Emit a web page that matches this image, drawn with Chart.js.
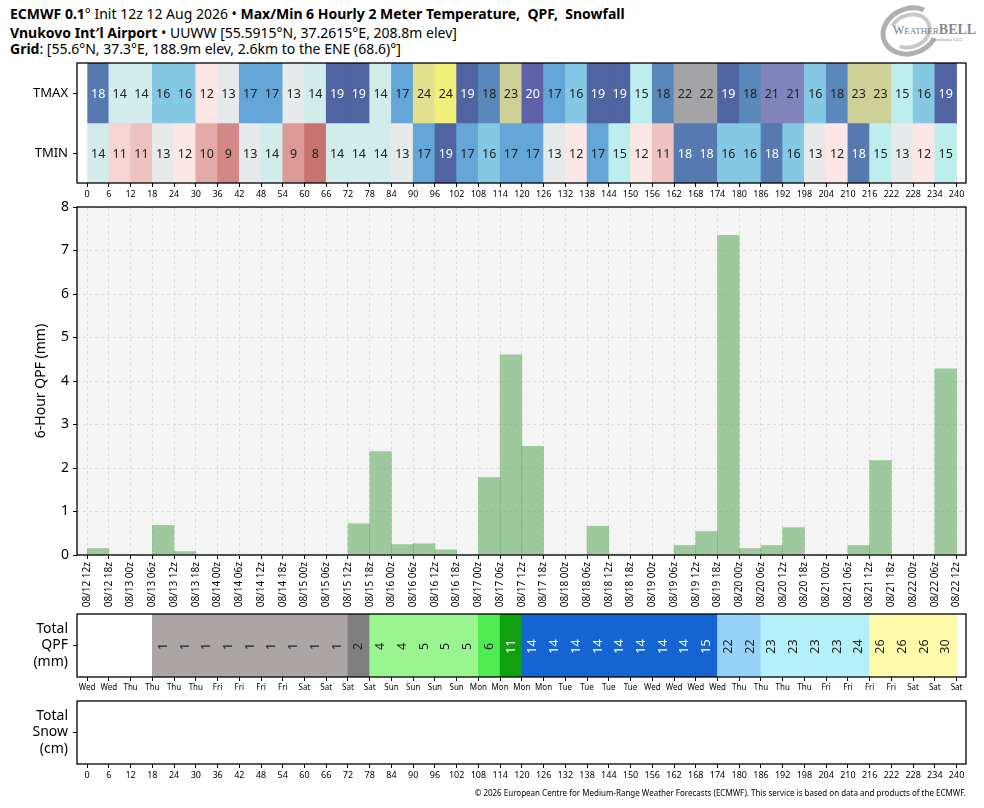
<!DOCTYPE html>
<html>
<head>
<meta charset="utf-8">
<script src="https://cdn.jsdelivr.net/npm/chart.js@4.4.1/dist/chart.umd.min.js"></script>
<style>
  body { margin: 0; background: #fff; width: 984px; height: 808px; position: relative; overflow: hidden; font-family: 'Noto Sans', sans-serif; color: #000; }
  canvas { position: absolute; left: 0; }
  .t { position: absolute; left: 10px; font-size: 14px; line-height: 18px; white-space: pre; }
  #footer { position: absolute; right: 18px; top: 787px; font-size: 8px; white-space: pre; }
  #logo { position: absolute; left: 876px; top: 4px; width: 100px; height: 56px; }
  #logo .swirl { position: absolute; left: 4px; top: 2px; width: 50px; height: 40px; border: 5px solid #b0b0b0; border-right-color: transparent; border-radius: 50%; transform: rotate(-20deg); }
  #logo .swirl2 { position: absolute; left: 12px; top: 9px; width: 36px; height: 28px; border: 4px solid #c8c8c8; border-left-color: transparent; border-radius: 50%; transform: rotate(-20deg); }
  #logo .wb { position: absolute; left: 17px; top: 18px; font-family: 'Liberation Serif', serif; color: #777; font-size: 9px; white-space: nowrap; }
  #logo .wb .w { font-size: 12px; }
  #logo .wb b { font-size: 14px; color: #888; }
  #logo .llc { position: absolute; left: 57px; top: 33px; font-family: 'Liberation Serif', serif; color: #888; font-size: 5px; white-space: nowrap; }
</style>
</head>
<body>
<div class="t" style="top:5px"><b>ECMWF 0.1</b>° Init 12z 12 Aug 2026 • <b>Max/Min 6 Hourly 2 Meter Temperature,  QPF,  Snowfall</b></div>
<div class="t" style="top:24px"><b>Vnukovo Int′l Airport</b> • UUWW [55.5915°N, 37.2615°E, 208.8m elev]</div>
<div class="t" style="top:40px"><b>Grid</b>: [55.6°N, 37.3°E, 188.9m elev, 2.6km to the ENE (68.6)°]</div>

<div id="logo"><div class="swirl"></div><div class="swirl2"></div>
  <div class="wb"><span class="w">W</span>EATHER<b>BELL</b></div>
  <div class="llc">Analytics LLC</div>
</div>

<canvas id="tempChart" width="984" height="150" style="top:55px"></canvas>
<canvas id="qpfChart" width="984" height="412" style="top:200px"></canvas>
<canvas id="totalChart" width="984" height="92" style="top:608px"></canvas>
<canvas id="snowChart" width="984" height="92" style="top:695px"></canvas>

<div id="footer">© 2026 European Centre for Medium-Range Weather Forecasts (ECMWF). This service is based on data and products of the ECMWF.</div>

<script>
// ================= DATA =================
const hours = [0, 6, 12, 18, 24, 30, 36, 42, 48, 54, 60, 66, 72, 78, 84, 90, 96, 102, 108, 114, 120,
  126, 132, 138, 144, 150, 156, 162, 168, 174, 180, 186, 192, 198, 204, 210, 216, 222, 228, 234, 240];

const dateLabels = ["08/12 12z", "08/12 18z",
  "08/13 00z", "08/13 06z", "08/13 12z", "08/13 18z",
  "08/14 00z", "08/14 06z", "08/14 12z", "08/14 18z",
  "08/15 00z", "08/15 06z", "08/15 12z", "08/15 18z",
  "08/16 00z", "08/16 06z", "08/16 12z", "08/16 18z",
  "08/17 00z", "08/17 06z", "08/17 12z", "08/17 18z",
  "08/18 00z", "08/18 06z", "08/18 12z", "08/18 18z",
  "08/19 00z", "08/19 06z", "08/19 12z", "08/19 18z",
  "08/20 00z", "08/20 06z", "08/20 12z", "08/20 18z",
  "08/21 00z", "08/21 06z", "08/21 12z", "08/21 18z",
  "08/22 00z", "08/22 06z", "08/22 12z"];

const dayLabels = ["Wed", "Wed", "Thu", "Thu", "Thu", "Thu", "Fri", "Fri", "Fri", "Fri",
  "Sat", "Sat", "Sat", "Sat", "Sun", "Sun", "Sun", "Sun", "Mon", "Mon", "Mon", "Mon",
  "Tue", "Tue", "Tue", "Tue", "Wed", "Wed", "Wed", "Wed", "Thu", "Thu", "Thu", "Thu",
  "Fri", "Fri", "Fri", "Fri", "Sat", "Sat", "Sat"];

const rowLabels = ["TMAX", "TMIN"];

// 6-hourly max / min 2 m temperature (C), one value per 6 h cell
const tmax = [18.4, 14, 14, 16, 16, 12, 13, 17, 17, 13, 14, 19, 19, 14, 17, 24, 24.49, 19, 18, 23,
  20, 17, 16, 19, 19, 15, 18, 22, 22, 19, 18, 21, 21, 16, 18, 23, 23, 15, 16, 19];
const tmin = [14, 11.3, 10.7, 13, 12, 10, 8.55, 13, 14, 9, 8, 14, 14, 14, 13, 17, 19, 17, 16, 17,
  17, 13, 12, 17, 15, 12, 10.7, 18.4, 18.4, 16, 16, 18.4, 16, 13, 12, 18.4, 15, 13, 12, 15];

// 6-hour QPF (mm)
const qpf6h = [0.15, 0, 0, 0.68, 0.08, 0, 0, 0, 0, 0, 0, 0, 0.72, 2.38, 0.24, 0.26, 0.12, 0, 1.78, 4.6,
  2.5, 0, 0, 0.66, 0.02, 0, 0, 0.22, 0.54, 7.35, 0.15, 0.22, 0.63, 0, 0, 0.22, 2.17, 0, 0, 4.28];

// running total QPF (mm) as printed in the cells
const qpfTotal = [0, 0, 0, 1, 1, 1, 1, 1, 1, 1, 1, 1, 2, 4, 4, 5, 5, 5, 6, 11,
  14, 14, 14, 14, 14, 14, 14, 14, 15, 22, 22, 23, 23, 23, 23, 24, 26, 26, 26, 30];

// running total snow (cm)
const snowTotal = [0, 0, 0, 0, 0, 0, 0, 0, 0, 0, 0, 0, 0, 0, 0, 0, 0, 0, 0, 0,
  0, 0, 0, 0, 0, 0, 0, 0, 0, 0, 0, 0, 0, 0, 0, 0, 0, 0, 0, 0];

// ================= COLOUR SCALES =================
const tempStops = [8, 9, 10, 11, 12, 13, 14, 15, 16, 17, 18, 19, 20, 21, 22, 23, 24, 25];
const tempColors = ["#c87370", "#dc9a97", "#e3aaa8", "#f2cccc", "#fde6e6", "#e6eaea", "#d2ecec",
  "#bdeeed", "#84c8e4", "#64a6d8", "#5a88bb", "#4f64a0", "#6060a8", "#8282bc", "#a4a4a8",
  "#cfcf98", "#e0e08e", "#ffff66"];

const qpfLevels = [1, 2, 3, 6, 10, 12, 20, 23, 25];
const qpfColors = ["#aba5a5", "#808080", "#98f590", "#50eb50", "#10a010", "#1464d2", "#96d2fa",
  "#b4f0fa", "#fffaaa"];

function hexRgb(h) {
  return [1, 3, 5].map(k => parseInt(h.slice(k, k + 2), 16));
}

function tempRgb(t) {
  let i = 0;
  while (i < tempStops.length - 2 && t > tempStops[i + 1]) i++;
  const f = Math.min(Math.max((t - tempStops[i]) / (tempStops[i + 1] - tempStops[i]), 0), 1);
  const a = hexRgb(tempColors[i]), b = hexRgb(tempColors[i + 1]);
  return a.map((v, k) => Math.round(v + (b[k] - v) * f));
}

function qpfRgb(v) {
  let c = null;
  qpfLevels.forEach((lv, i) => { if (v >= lv) c = hexRgb(qpfColors[i]); });
  return c;
}

const css = rgb => rgb ? "rgb(" + rgb.join(",") + ")" : "rgba(0,0,0,0)";
const isDark = rgb => rgb && (0.299 * rgb[0] + 0.587 * rgb[1] + 0.114 * rgb[2]) < 125;

// ================= SHARED BITS =================
Chart.defaults.font.family = "'Noto Sans', sans-serif";
Chart.defaults.color = "#000";

const X_MIN = -2.8, X_MAX = 242.6, AXIS_W = 77, PAD_R = 18;

function xAxis(labels, size, height) {
  return {
    type: "linear", min: X_MIN, max: X_MAX, bounds: "data", offset: false,
    afterBuildTicks: s => { s.ticks = hours.map(v => ({ value: v })); },
    afterFit: s => { s.height = height; },
    grid: { drawOnChartArea: false, offset: false, color: "#000", tickLength: 4 },
    border: { display: false },
    ticks: { autoSkip: false, maxRotation: 0, minRotation: 0, padding: 2, font: { size }, callback: (v, i) => labels[i] }
  };
}

function rowAxis(size) {
  return {
    type: "category", offset: true,
    // keep the multi-line labels from pushing the plot box around
    afterFit: s => { s.width = AXIS_W; s.paddingTop = 0; s.paddingBottom = 0; },
    grid: { drawOnChartArea: false, offset: false, color: "#000", tickLength: 4 },
    border: { display: false },
    ticks: { font: { size }, padding: 5 }
  };
}

const boxPlugin = {
  id: "box",
  afterDraw(chart) {
    const { ctx, chartArea: a } = chart;
    ctx.save();
    ctx.strokeStyle = "#000";
    ctx.lineWidth = 1.3;
    ctx.strokeRect(a.left, a.top, a.right - a.left, a.bottom - a.top);
    ctx.restore();
  }
};

const bgPlugin = {
  id: "bg",
  beforeDraw(chart) {
    const { ctx, chartArea: a } = chart;
    ctx.save();
    ctx.fillStyle = "#f4f4f4";
    ctx.fillRect(a.left, a.top, a.right - a.left, a.bottom - a.top);
    ctx.restore();
  }
};

// numbers printed inside the coloured cells
const cellTextPlugin = {
  id: "cellText",
  afterDatasetsDraw(chart) {
    const ctx = chart.ctx;
    chart.data.datasets.forEach((ds, di) => {
      if (!ds.cellValues) return;
      const meta = chart.getDatasetMeta(di);
      meta.data.forEach((el, j) => {
        const v = ds.cellValues[j];
        if (ds.skipZero && v < 1) return;
        ctx.save();
        ctx.font = ds.textSize + "px 'Noto Sans', sans-serif";
        ctx.fillStyle = isDark(ds.cellRgb[j]) ? "#fff" : "#222";
        ctx.textAlign = "center";
        ctx.textBaseline = "middle";
        ctx.translate((el.x + el.base) / 2, el.y + 1);
        if (ds.rotateText) ctx.rotate(-Math.PI / 2);
        ctx.fillText(String(Math.round(v)), 0, 0);
        ctx.restore();
      });
    });
  }
};

const cells = (vals, row) => vals.map((v, i) => ({ y: row, x: [hours[i], hours[i + 1]] }));

// ================= TMAX / TMIN GRID =================
function renderTemps() {
  const ctx = document.getElementById("tempChart");
  const maxRgb = tmax.map(tempRgb), minRgb = tmin.map(tempRgb);
  new Chart(ctx, {
    type: "bar",
    data: {
      labels: rowLabels,
      datasets: [
        { data: cells(tmax, "TMAX"), backgroundColor: maxRgb.map(css), cellValues: tmax, cellRgb: maxRgb, textSize: 12.5 },
        { data: cells(tmin, "TMIN"), backgroundColor: minRgb.map(css), cellValues: tmin, cellRgb: minRgb, textSize: 12.5 }
      ]
    },
    options: {
      indexAxis: "y", responsive: false, animation: false,
      layout: { padding: { top: 8, right: PAD_R, left: 0, bottom: 0 } },
      plugins: { legend: { display: false }, tooltip: { enabled: false } },
      datasets: { bar: { grouped: false, barPercentage: 1, categoryPercentage: 1, borderWidth: 0 } },
      scales: { x: xAxis(hours, 9, 22), y: rowAxis(13) }
    },
    plugins: [boxPlugin, cellTextPlugin]
  });
}

// ================= 6-HOUR QPF BARS =================
function renderQpf() {
  const ctx = document.getElementById("qpfChart");
  const x = xAxis(dateLabels, 10, 57);
  x.grid = { drawOnChartArea: true, offset: false, color: "#dcdcdc", tickColor: "#000", tickLength: 4 };
  x.border = { display: false, dash: [3, 3] };
  x.ticks.maxRotation = 90;
  x.ticks.minRotation = 90;
  x.ticks.padding = 3;
  new Chart(ctx, {
    type: "bar",
    data: {
      datasets: [{
        data: qpf6h.map((v, i) => ({ x: (hours[i] + hours[i + 1]) / 2, y: v })),
        backgroundColor: "rgba(86,166,86,0.55)",
        borderWidth: 0, barPercentage: 1, categoryPercentage: 1
      }]
    },
    options: {
      responsive: false, animation: false,
      layout: { padding: { top: 7, right: PAD_R, left: 0, bottom: 0 } },
      plugins: { legend: { display: false }, tooltip: { enabled: false } },
      scales: {
        x,
        y: {
          min: 0, max: 8,
          afterFit: s => { s.width = AXIS_W; s.paddingTop = 0; s.paddingBottom = 0; },
          grid: { color: "#dcdcdc", tickColor: "#000", tickLength: 4 },
          border: { display: false, dash: [3, 3] },
          ticks: { stepSize: 1, font: { size: 14 }, padding: 4 },
          title: { display: true, text: "6-Hour QPF (mm)", font: { size: 14 }, padding: { top: 33, bottom: 0 } }
        }
      }
    },
    plugins: [bgPlugin, boxPlugin]
  });
}

// ================= TOTAL QPF / SNOW STRIPS =================
function renderTotal(id, label, totals, tickLabels, tickSize) {
  const ctx = document.getElementById(id);
  const rgb = totals.map(qpfRgb);
  new Chart(ctx, {
    type: "bar",
    data: {
      labels: [label],
      datasets: [{
        data: cells(totals, 0), backgroundColor: rgb.map(css),
        cellValues: totals, cellRgb: rgb, textSize: 12.5, rotateText: true, skipZero: true
      }]
    },
    options: {
      indexAxis: "y", responsive: false, animation: false,
      layout: { padding: { top: 6, right: PAD_R, left: 0, bottom: 0 } },
      plugins: { legend: { display: false }, tooltip: { enabled: false } },
      datasets: { bar: { grouped: false, barPercentage: 1, categoryPercentage: 1, borderWidth: 0 } },
      scales: { x: xAxis(tickLabels, tickSize, 23), y: rowAxis(14) }
    },
    plugins: [boxPlugin, cellTextPlugin]
  });
}

// ================= RUN ALL =================
renderTemps();
renderQpf();
renderTotal("totalChart", ["Total", "QPF", "(mm)"], qpfTotal, dayLabels, 8);
renderTotal("snowChart", ["Total", "Snow", "(cm)"], snowTotal, hours, 9);
</script>
</body>
</html>
